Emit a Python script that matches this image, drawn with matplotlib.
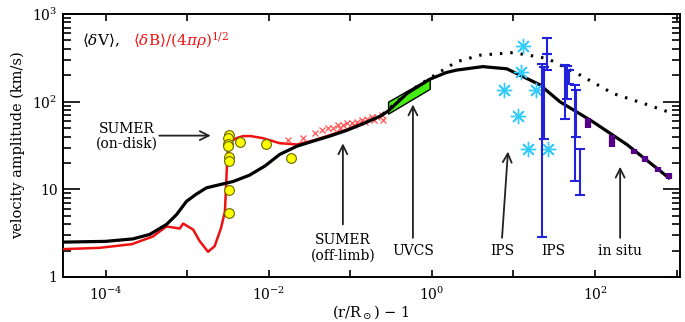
import matplotlib.pyplot as plt
import numpy as np

plt.rcParams['font.family'] = 'DejaVu Serif'
plt.rcParams['mathtext.fontset'] = 'dejavuserif'

# model: velocity amplitude <dV> (solid black)
dv_x = [3e-5, 1e-4, 2.16e-4, 3.47e-4, 5.56e-4, 7.4e-4, 9.8e-4, 1.29e-3, 1.72e-3, 2.5e-3,
        3.67e-3, 5.8e-3, 9e-3, 0.0136, 0.022, 0.035, 0.056, 0.09, 0.143, 0.23, 0.29,
        0.5, 0.94, 1.5, 2.0, 4.2, 8.3, 21, 37, 94, 246, 630, 800]
dv_y = [2.5, 2.55, 2.72, 3.06, 3.97, 5.15, 7.3, 8.8, 10.4, 11.3,
        12.3, 14.5, 18.5, 25, 31, 35.5, 40.5, 47, 56, 68, 78,
        125, 180, 215, 229, 251, 237, 156, 100, 59, 32.4, 16.2, 13.5]

# model: <dB>/(4 pi rho)^1/2 (red)
db_x = [3e-5, 8.4e-5, 2.1e-4, 3.8e-4, 5.56e-4, 8.1e-4, 8.9e-4, 1.18e-3, 1.42e-3,
        1.8e-3, 2.17e-3, 2.6e-3, 2.9e-3, 3.0e-3, 3.08e-3, 3.15e-3, 3.3e-3, 3.5e-3,
        4.0e-3, 4.85e-3, 6e-3, 8.5e-3, 0.0136, 0.022, 0.035, 0.056, 0.09, 0.14, 0.25]
db_y = [2.08, 2.15, 2.37, 2.9, 3.77, 3.57, 4.07, 3.48, 2.57,
        1.94, 2.25, 3.63, 5.6, 11.3, 20, 28, 33, 35.5,
        38.3, 40.5, 40.5, 38.3, 33.6, 32.5, 36, 41.5, 48, 57, 70]

# model: total (dotted)
tot_x = [0.25, 0.5, 0.94, 2.0, 3.9, 9.9, 26, 65, 166, 436, 800]
tot_y = [72, 127, 185, 285, 339, 363, 311, 202, 124, 92.5, 76]

# SUMER on-disk (yellow circles)
sod_x = [3.24e-3, 3.2e-3, 3.15e-3, 3.15e-3, 3.24e-3, 3.24e-3, 3.24e-3, 3.24e-3, 4.4e-3, 9.2e-3, 0.0186]
sod_y = [41.8, 38.3, 32.7, 31, 23.1, 20.8, 9.7, 5.4, 34.5, 32.5, 23]

# SUMER off-limb (red crosses)
sol_x = [0.0173, 0.0264, 0.0367, 0.0443, 0.0534, 0.0615, 0.0708, 0.0816, 0.0897, 0.1035,
         0.119, 0.137, 0.158, 0.182, 0.21, 0.241, 0.252, 0.075, 0.112, 0.15, 0.195]
sol_y = [36.7, 38.3, 43.6, 47.7, 49.7, 49.7, 54.3, 54.3, 56.7, 56.7,
         59.3, 62, 62.9, 66.3, 67.6, 70.6, 62, 50, 54, 58, 61]

# UVCS band
uvcs_x = [0.29, 0.94]
uvcs_lo = [73, 140]
uvcs_hi = [100, 187]

# IPS (cyan asterisks)
ips1_x = [13.1, 12.4, 7.6, 18.9, 11.3, 15, 26.5]
ips1_y = [433, 219, 137, 137, 69, 28.5, 28.5]

# IPS (blue error bars), lower and upper ends
ips2_x = [22.4, 23.7, 26, 26, 42.9, 45.3, 48, 56.9, 58.5, 65.5]
ips2_lo = [2.85, 38, 346, 230, 63.5, 108, 161, 12.6, 40, 8.6]
ips2_hi = [270, 250, 534, 346, 263, 253, 230, 155, 135, 28.5]

# in situ (purple bars)
ins_x = [81, 160, 300, 410, 593, 809]
ins_lo = [49.8, 30.8, 25, 20.4, 15.7, 13.2]
ins_hi = [64.5, 42, 28.5, 23.7, 18.2, 15.3]

fig = plt.figure(figsize=(6.85, 3.22), dpi=100)
ax = fig.add_axes([63 / 685, 1 - 277 / 322, 617 / 685, 263 / 322])
ax.set_xscale('log')
ax.set_yscale('log')
ax.set_xlim(3e-5, 1.1e3)
ax.set_ylim(1, 1000)

ax.fill_between(uvcs_x, uvcs_lo, uvcs_hi, facecolor='#44ee11', edgecolor='black', lw=1.0, zorder=2)
ax.plot(db_x, db_y, color='#ee1111', lw=1.8, zorder=3)
ax.plot(dv_x, dv_y, color='black', lw=2.3, zorder=4)
ax.plot(tot_x, tot_y, color='black', lw=2.2, ls=(0, (0.8, 2.6)), zorder=4)
ax.plot(sol_x, sol_y, 'x', color='#ff5555', ms=5, mew=0.9, zorder=3)
ax.plot(sod_x, sod_y, 'o', mfc='#ffff00', mec='#666600', mew=0.8, ms=7, zorder=5)
ax.plot(ips1_x, ips1_y, ls='none', marker=(8, 2, 0), color='#33ccff', ms=11, mew=1.0, zorder=5)
ips2_lo = np.array(ips2_lo)
ips2_hi = np.array(ips2_hi)
ax.errorbar(ips2_x, ips2_lo, yerr=[np.zeros(len(ips2_lo)), ips2_hi - ips2_lo],
            fmt='none', ecolor='#2222dd', elinewidth=1.5, capsize=3.5, capthick=1.5, zorder=5)
ax.vlines(ins_x, ins_lo, ins_hi, color='#550088', lw=4.5, zorder=6)

# annotations
arr = dict(arrowstyle='->', color='#222222', lw=1.3, mutation_scale=16)
fs = 10
ax.annotate('', xy=(2.1e-3, 41), xytext=(4.2e-4, 41), arrowprops=arr)
ax.text(1.8e-4, 40, 'SUMER\n(on-disk)', ha='center', va='center', fontsize=fs, linespacing=1.1)
ax.annotate('', xy=(0.081, 36), xytext=(0.081, 3.7), arrowprops=arr)
ax.text(0.081, 2.15, 'SUMER\n(off-limb)', ha='center', va='center', fontsize=fs, linespacing=1.1)
ax.annotate('', xy=(0.585, 100), xytext=(0.585, 2.6), arrowprops=arr)
ax.text(0.585, 1.97, 'UVCS', ha='center', va='center', fontsize=fs)
ax.annotate('', xy=(8.6, 29), xytext=(7.2, 2.6), arrowprops=arr)
ax.text(7.2, 1.97, 'IPS', ha='center', va='center', fontsize=fs)
ax.text(30.5, 1.97, 'IPS', ha='center', va='center', fontsize=fs)
ax.annotate('', xy=(203, 19.5), xytext=(203, 2.6), arrowprops=arr)
ax.text(203, 1.97, 'in situ', ha='center', va='center', fontsize=fs)

ax.text(0.031, 0.9, r'$\langle\delta\mathrm{V}\rangle$,', transform=ax.transAxes,
        fontsize=11, va='center', ha='left')
ax.text(0.113, 0.9, r'$\langle\delta\mathrm{B}\rangle/(4\pi\rho)^{1/2}$', transform=ax.transAxes,
        fontsize=11, va='center', ha='left', color='#ee1111')

# axes and ticks
ax.set_xticks([1e-4, 1e-3, 1e-2, 1e-1, 1, 10, 100, 1000])
ax.set_xticklabels([r'$10^{-4}$', '', r'$10^{-2}$', '', r'$10^{0}$', '', r'$10^{2}$', ''])
ax.xaxis.set_minor_locator(plt.NullLocator())
ax.set_yticks([1, 10, 100, 1000])
ax.set_yticklabels(['1', '10', r'$10^{2}$', r'$10^{3}$'])
ax.yaxis.set_minor_locator(plt.LogLocator(base=10, subs=np.arange(2, 10)))
ax.yaxis.set_minor_formatter(plt.NullFormatter())
ax.tick_params(axis='both', which='both', direction='in', top=True, right=True, labelsize=10, width=1.2)
ax.tick_params(axis='x', which='major', length=5, pad=6)
ax.tick_params(axis='y', which='major', length=12, pad=4)
ax.tick_params(axis='y', which='minor', length=6)
for s in ax.spines.values():
    s.set_linewidth(1.4)

ax.set_ylabel('velocity amplitude (km/s)', fontsize=10.5, labelpad=5)
ax.set_xlabel(r'(r/R$_\odot$) $-$ 1', fontsize=10.5)
ax.xaxis.set_label_coords(0.50, -0.098)

fig.savefig('out.png', dpi=100)
